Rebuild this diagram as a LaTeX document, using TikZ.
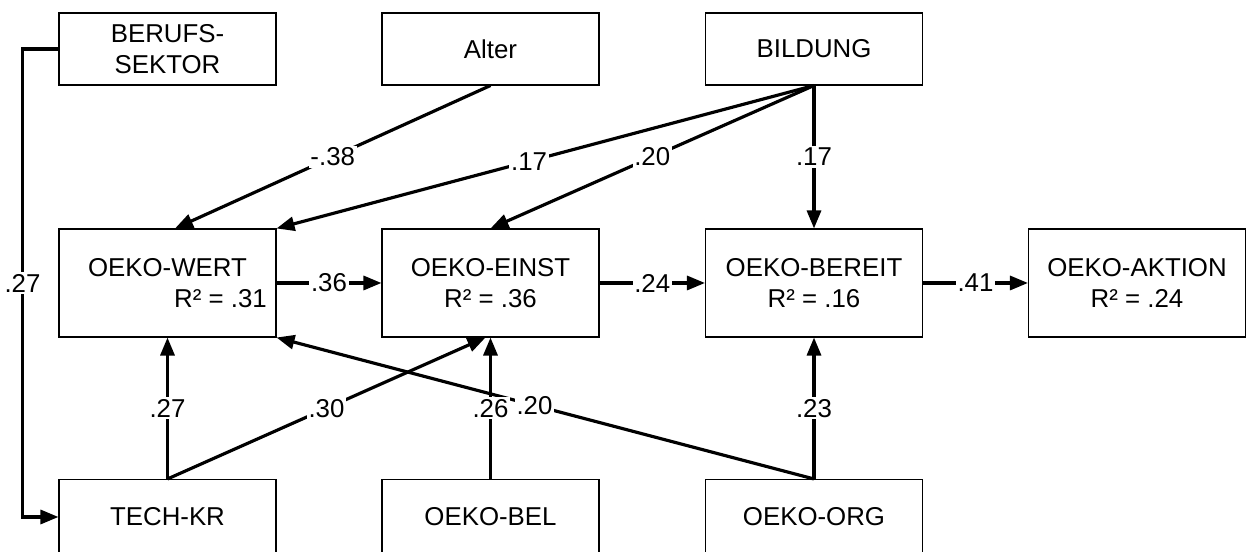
\documentclass[tikz,border=0pt]{standalone}
\usepackage{fontspec}
\setmainfont{Liberation Sans}
\usetikzlibrary{arrows.meta,calc}
\newcommand{\BOXW}{4.34cm}

\begin{document}
\begin{tikzpicture}[font=\fontsize{14.7}{17.6}\selectfont,
    var/.style={draw,line width=0.6pt,minimum width=\BOXW,align=center,inner sep=0pt},
    eff/.style={line width=1.8pt,-{Triangle[length=3.6mm,width=2.8mm]}},
    coef/.style={fill=white,inner sep=1pt}]

    \useasboundingbox (0,0) rectangle (25,11.04);

    % background variables
    \foreach \n/\t/\x in {beruf/{BERUFS-\\SEKTOR}/3.35,alter/Alter/9.81,bild/BILDUNG/16.28}{%
      \node[var,minimum height=1.44cm](\n) at (\x,10.06) {\t};
    }

    % the chain with explained variance
    \node[var,minimum height=2.16cm](wert) at (3.35,5.38) {OEKO-WERT\\\hspace*{2.12cm}R² = .31};
    \node[var,minimum height=2.16cm](einst) at (9.81,5.38) {OEKO-EINST\\R² = .36};
    \node[var,minimum height=2.16cm](bereit) at (16.28,5.38) {OEKO-BEREIT\\R² = .16};
    \node[var,minimum height=2.16cm](aktion) at (22.74,5.38) {OEKO-AKTION\\R² = .24};

    % bottom row, runs off the page
    \foreach \n/\t/\x in {tech/TECH-KR/3.35,bel/OEKO-BEL/9.81,org/OEKO-ORG/16.28}{%
      \node[var,minimum height=1.5cm](\n) at (\x,0.70) {\t};
    }

    \draw [eff] (beruf.west) -- ++(-0.72,0) |- node[coef,pos=0.25] {.27} (tech.west);

    \draw [eff] (alter.south) -- node[coef] {-.38} ($(wert.north)+(0.15,0)$);
    \draw [eff] (bild.south) -- node[coef,pos=0.53] {.17} (wert.north east);
    \draw [eff] (bild.south) -- node[coef] {.20} (einst.north);
    \draw [eff] (bild.south) -- node[coef] {.17} (bereit.north);

    \draw [eff] (wert.east) -- node[coef] {.36} (einst.west);
    \draw [eff] (einst.east) -- node[coef] {.24} (bereit.west);
    \draw [eff] (bereit.east) -- node[coef] {.41} (aktion.west);

    \draw [eff] (org.north) -- node[coef,pos=0.52] {.20} (wert.south east);
    \draw [eff] (tech.north) -- node[coef] {.27} (wert.south);
    \draw [eff] (tech.north) -- node[coef] {.30} ($(einst.south)+(-0.1,0)$);
    \draw [eff] (bel.north) -- node[coef] {.26} (einst.south);
    \draw [eff] (org.north) -- node[coef] {.23} (bereit.south);

\end{tikzpicture}
\end{document}
